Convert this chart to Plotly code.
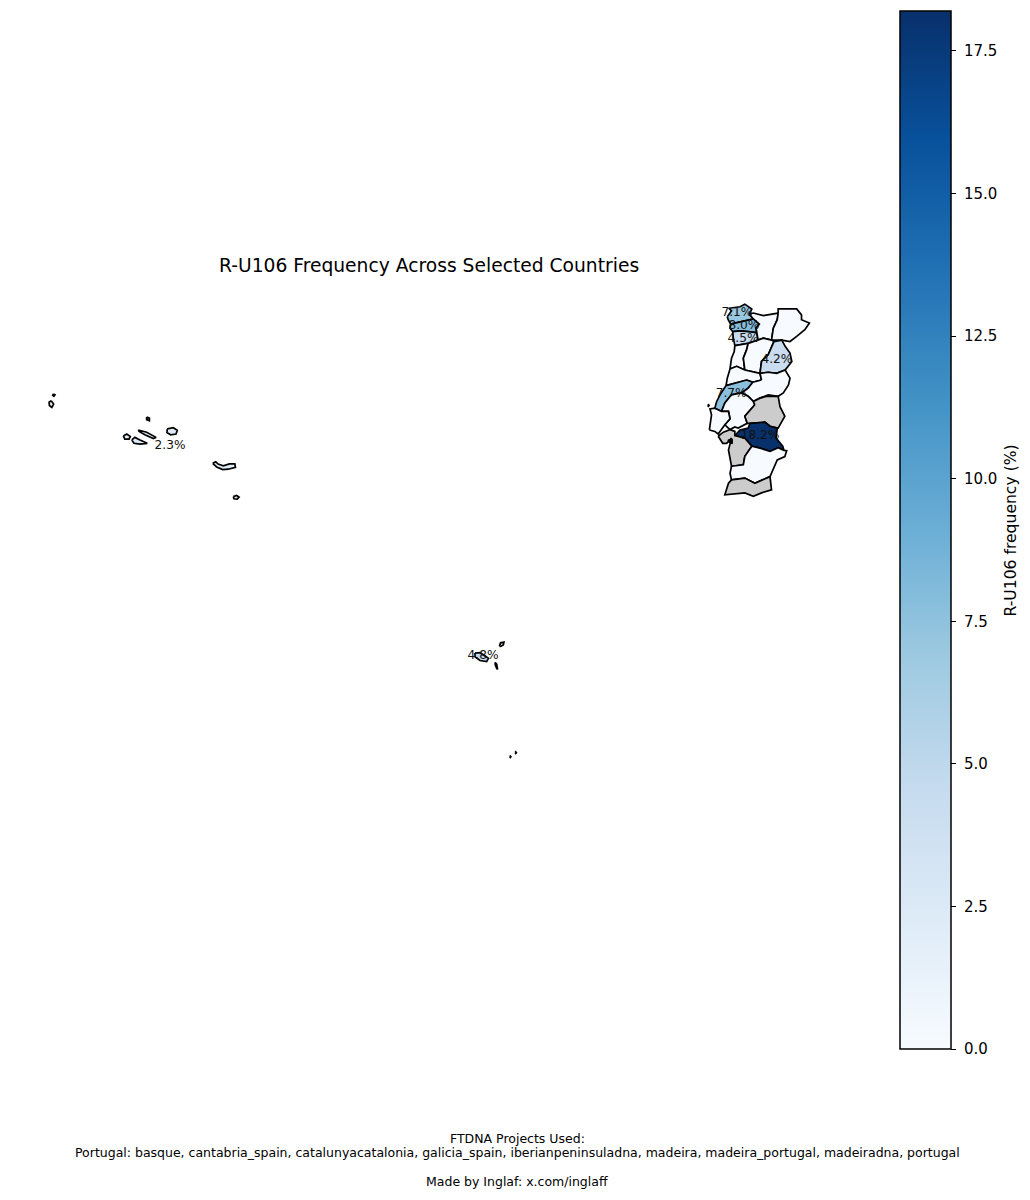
import plotly.graph_objects as go
from plotly.colors import sample_colorscale

FONT = "DejaVu Sans"
MAX_FREQ = 18.2

# district outlines as (lon, lat)
viana = [(-8.85, 41.83), (-8.71, 41.99), (-8.80, 42.06), (-8.43, 42.10), (-8.27, 42.17), (-8.04, 42.04), (-8.12, 41.90),
         (-7.99, 41.77), (-8.27, 41.72), (-8.54, 41.66), (-8.74, 41.63), (-8.82, 41.75)]
braga = [(-8.74, 41.63), (-8.54, 41.66), (-8.27, 41.72), (-7.99, 41.77), (-7.79, 41.63), (-7.90, 41.52),
         (-7.88, 41.40), (-8.16, 41.43), (-8.43, 41.45), (-8.67, 41.43), (-8.76, 41.52)]
porto = [(-8.67, 41.43), (-8.43, 41.45), (-8.16, 41.43), (-7.88, 41.40), (-7.83, 41.20), (-8.16, 41.11),
         (-8.43, 41.07), (-8.60, 41.05), (-8.65, 41.25)]
vila_real = [(-8.12, 41.90), (-7.99, 41.93), (-7.66, 41.86), (-7.17, 41.93), (-7.20, 41.75), (-7.33, 41.52),
             (-7.39, 41.20), (-7.66, 41.25), (-7.83, 41.20), (-7.88, 41.40), (-7.90, 41.52), (-7.79, 41.63),
             (-7.99, 41.77)]
braganca = [(-7.17, 41.93), (-7.17, 42.04), (-6.78, 42.04), (-6.56, 42.04), (-6.40, 41.88), (-6.40, 41.75),
            (-6.14, 41.66), (-6.29, 41.48), (-6.56, 41.30), (-6.78, 41.16), (-7.05, 41.20), (-7.39, 41.20),
            (-7.33, 41.52), (-7.20, 41.75)]
aveiro = [(-8.60, 41.05), (-8.43, 41.07), (-8.16, 41.11), (-8.21, 40.94), (-8.32, 40.71), (-8.27, 40.39),
          (-8.54, 40.49), (-8.76, 40.42), (-8.71, 40.71), (-8.62, 40.89)]
viseu = [(-8.16, 41.11), (-7.83, 41.20), (-7.66, 41.25), (-7.39, 41.20), (-7.31, 41.16), (-7.50, 40.80),
         (-7.72, 40.62), (-7.77, 40.30), (-8.27, 40.39), (-8.32, 40.71), (-8.21, 40.94)]
guarda = [(-7.31, 41.16), (-7.05, 41.20), (-6.94, 41.03), (-6.78, 40.85), (-6.72, 40.62), (-6.94, 40.39),
          (-7.22, 40.30), (-7.50, 40.33), (-7.77, 40.30), (-7.72, 40.62), (-7.50, 40.80)]
coimbra = [(-8.76, 40.42), (-8.54, 40.49), (-8.27, 40.39), (-7.77, 40.30), (-7.72, 40.12), (-8.01, 40.06),
           (-8.21, 40.12), (-8.89, 39.97), (-8.85, 40.17)]
leiria = [(-8.89, 39.97), (-8.21, 40.12), (-8.01, 40.06), (-8.16, 39.90), (-8.38, 39.77), (-8.71, 39.72),
          (-8.93, 39.50), (-9.04, 39.27), (-9.26, 39.36), (-9.20, 39.54), (-9.09, 39.72)]
castelo_branco = [(-7.72, 40.12), (-7.77, 40.30), (-7.50, 40.33), (-7.22, 40.30), (-6.94, 40.39), (-6.78, 40.17),
                  (-6.83, 39.99), (-7.00, 39.77), (-7.17, 39.68), (-7.50, 39.72), (-7.77, 39.63), (-7.99, 39.54),
                  (-8.16, 39.68), (-8.38, 39.77), (-8.16, 39.90), (-8.01, 40.06)]
santarem = [(-8.93, 39.50), (-8.71, 39.72), (-8.38, 39.77), (-8.16, 39.68), (-7.99, 39.54), (-7.94, 39.45),
            (-8.27, 39.14), (-8.19, 38.95), (-8.49, 38.82), (-8.60, 38.85), (-8.76, 38.78), (-8.93, 38.91),
            (-8.76, 39.07), (-8.81, 39.27), (-9.04, 39.27)]
portalegre = [(-7.94, 39.45), (-7.99, 39.54), (-7.77, 39.63), (-7.55, 39.68), (-7.17, 39.68), (-7.11, 39.40),
              (-6.95, 39.14), (-7.17, 38.82), (-7.44, 38.87), (-7.61, 38.98), (-8.10, 38.95), (-8.19, 38.95),
              (-8.27, 39.14)]
evora = [(-8.60, 38.62), (-8.43, 38.77), (-8.16, 38.82), (-8.10, 38.95), (-7.61, 38.98), (-7.44, 38.87),
         (-7.20, 38.82), (-7.24, 38.55), (-7.02, 38.33), (-6.98, 38.22), (-7.17, 38.29), (-7.44, 38.19),
         (-7.77, 38.28), (-8.04, 38.33), (-8.27, 38.55)]
setubal = [(-9.15, 38.60), (-8.98, 38.71), (-8.76, 38.78), (-8.60, 38.73), (-8.60, 38.62), (-8.27, 38.55),
           (-8.04, 38.33), (-8.27, 38.06), (-8.32, 37.83), (-8.71, 37.79), (-8.81, 38.23), (-8.71, 38.55),
           (-8.87, 38.41), (-9.00, 38.41)]
beja = [(-8.71, 37.79), (-8.32, 37.83), (-8.27, 38.06), (-8.04, 38.33), (-7.77, 38.28), (-7.44, 38.19),
        (-7.17, 38.29), (-6.98, 38.22), (-6.89, 38.21), (-6.95, 38.05), (-7.20, 37.96), (-7.33, 37.74),
        (-7.44, 37.51), (-7.94, 37.33), (-8.27, 37.47), (-8.71, 37.42), (-8.76, 37.60)]
faro = [(-8.71, 37.42), (-8.27, 37.47), (-7.94, 37.33), (-7.44, 37.51), (-7.39, 37.15), (-7.72, 37.07),
        (-7.99, 36.98), (-8.27, 37.07), (-8.93, 37.02), (-8.81, 37.33)]
lisboa = [(-9.44, 38.77), (-9.37, 39.18), (-9.42, 39.34), (-9.26, 39.36), (-9.04, 39.27), (-8.81, 39.27),
          (-8.76, 39.07), (-8.93, 38.91), (-9.15, 38.66), (-9.26, 38.73)]
berlengas = [(-9.50, 39.43), (-9.47, 39.45), (-9.45, 39.43), (-9.47, 39.41)]
estuary = [(-8.83, 38.50), (-8.68, 38.52), (-8.68, 38.40), (-8.78, 38.42)]

# islands
flores = [(-31.16, 39.56), (-31.08, 39.47), (-31.14, 39.38), (-31.22, 39.43), (-31.23, 39.52)]
corvo = [(-31.09, 39.745), (-31.035, 39.72), (-31.07, 39.68), (-31.11, 39.71)]
graciosa = [(-28.01, 39.12), (-27.92, 39.09), (-27.92, 39.02), (-28.01, 39.05)]
terceira = [(-27.33, 38.80), (-27.13, 38.83), (-27.0, 38.76), (-27.04, 38.66), (-27.22, 38.64), (-27.34, 38.70)]
sao_jorge = [(-28.29, 38.77), (-28.01, 38.71), (-27.70, 38.57), (-27.79, 38.54), (-28.07, 38.64), (-28.26, 38.73)]
faial = [(-28.78, 38.61), (-28.67, 38.66), (-28.55, 38.59), (-28.59, 38.52), (-28.73, 38.52)]
pico = [(-28.50, 38.50), (-28.40, 38.57), (-28.23, 38.50), (-27.99, 38.41), (-28.23, 38.39), (-28.43, 38.41)]
sao_miguel = [(-25.83, 37.87), (-25.73, 37.91), (-25.65, 37.85), (-25.48, 37.80), (-25.28, 37.855), (-25.10, 37.855),
              (-25.08, 37.76), (-25.32, 37.71), (-25.50, 37.70), (-25.70, 37.77)]
santa_maria = [(-25.15, 36.97), (-25.04, 37.0), (-24.96, 36.955), (-25.02, 36.90), (-25.13, 36.91)]
madeira = [(-17.175, 32.74), (-17.01, 32.75), (-16.73, 32.60), (-16.79, 32.51), (-17.01, 32.54), (-17.175, 32.64)]
porto_santo = [(-16.37, 32.93), (-16.33, 33.02), (-16.22, 33.04), (-16.24, 32.96), (-16.33, 32.92)]
desertas = [(-16.515, 32.49), (-16.46, 32.44), (-16.43, 32.30), (-16.46, 32.33), (-16.505, 32.42)]
selvagem_a = [(-16.03, 29.94), (-16.01, 29.96), (-15.99, 29.94), (-16.01, 29.92)]
selvagem_b = [(-15.85, 30.05), (-15.83, 30.07), (-15.81, 30.05), (-15.83, 30.03)]

# None = no data, drawn grey
regions = [
    ("Viana do Castelo", [viana], 7.1),
    ("Braga", [braga], 8.0),
    ("Porto", [porto], 4.5),
    ("Vila Real", [vila_real], 0),
    ("Braganca", [braganca], 0),
    ("Aveiro", [aveiro], 0),
    ("Viseu", [viseu], 0),
    ("Guarda", [guarda], 4.2),
    ("Coimbra", [coimbra], 0),
    ("Leiria", [leiria], 7.7),
    ("Castelo Branco", [castelo_branco], 0),
    ("Santarem", [santarem], 0),
    ("Portalegre", [portalegre], None),
    ("Evora", [evora], 18.2),
    ("Setubal", [setubal], None),
    ("Beja", [beja], 0),
    ("Faro", [faro], None),
    ("Lisboa", [lisboa, berlengas], 0),
    ("Azores", [flores, corvo, graciosa, terceira, sao_jorge, faial, pico, sao_miguel, santa_maria], 2.3),
    ("Madeira", [madeira, porto_santo, desertas, selvagem_a, selvagem_b], 4.8),
]

label_text = ["7.1%", "8.0%", "4.5%", "4.2%", "7.7%", "18.2%", "2.3%", "4.8%"]
label_lon = [-8.53, -8.30, -8.33, -7.21, -8.72, -7.77, -27.24, -16.91]
label_lat = [41.93, 41.58, 41.23, 40.66, 39.74, 38.61, 38.34, 32.67]

colorbar_ticks = [0, 2.5, 5, 7.5, 10, 12.5, 15, 17.5]

title = "R-U106 Frequency Across Selected Countries"
colorbar_title = "R-U106 frequency (%)"
footer_lines = [
    "FTDNA Projects Used:",
    "Portugal: basque, cantabria_spain, catalunyacatalonia, galicia_spain, iberianpeninsuladna, "
    "madeira, madeira_portugal, madeiradna, portugal",
    "Made by Inglaf: x.com/inglaff",
]


def region_color(value):
    if value is None:
        return "#cccccc"
    return sample_colorscale("Blues", value / MAX_FREQ)[0]


fig = go.Figure()

for name, rings, value in regions:
    xs, ys = [], []
    for ring in rings:
        xs += [p[0] for p in ring] + [ring[0][0], None]
        ys += [p[1] for p in ring] + [ring[0][1], None]
    fig.add_trace(go.Scatter(
        x=xs, y=ys, name=name, mode="lines", fill="toself",
        fillcolor=region_color(value),
        line=dict(color="black", width=1.7),
        hoverinfo="name", showlegend=False,
    ))

fig.add_trace(go.Scatter(
    x=[p[0] for p in estuary] + [estuary[0][0]],
    y=[p[1] for p in estuary] + [estuary[0][1]],
    mode="lines", fill="toself", fillcolor="black",
    line=dict(color="black", width=1), hoverinfo="skip", showlegend=False,
))

fig.add_trace(go.Scatter(
    x=label_lon, y=label_lat, mode="text", text=label_text,
    textposition="middle center",
    textfont=dict(family=FONT, size=12.2, color="#111111"),
    hoverinfo="skip", showlegend=False,
))

# invisible markers, only here to carry the colorbar
fig.add_trace(go.Scatter(
    x=label_lon, y=label_lat, mode="markers", hoverinfo="skip", showlegend=False,
    marker=dict(
        size=1, opacity=0, color=[0, MAX_FREQ] + [0] * 6, cmin=0, cmax=MAX_FREQ,
        colorscale="Blues", showscale=True,
        colorbar=dict(
            thickness=51, thicknessmode="pixels", len=1038, lenmode="pixels",
            x=900 / 1030, xanchor="left", xpad=0,
            y=151 / 1200, yanchor="bottom", ypad=0,
            outlinecolor="black", outlinewidth=1.5,
            tickmode="array", tickvals=colorbar_ticks,
            ticktext=["\u00a0%.1f" % t for t in colorbar_ticks],
            ticks="outside", ticklen=5, tickwidth=1.2, tickcolor="black",
            tickfont=dict(family=FONT, size=15, color="black"),
        ),
    ),
))

fig.add_annotation(
    text=title, xref="paper", yref="paper", x=429 / 1030, y=1 - 265 / 1200, yanchor="middle",
    showarrow=False, font=dict(family=FONT, size=18.7, color="black"),
)
fig.add_annotation(
    text=colorbar_title, xref="paper", yref="paper", x=1010.5 / 1030, y=1 - 531 / 1200,
    xanchor="center", yanchor="middle",
    textangle=-90, showarrow=False, font=dict(family=FONT, size=15.6, color="black"),
)
for line, py in zip(footer_lines, [1138, 1152, 1181]):
    fig.add_annotation(
        text=line, xref="paper", yref="paper", x=517 / 1030, y=1 - py / 1200, yanchor="middle",
        showarrow=False, font=dict(family=FONT, size=12.5, color="black"),
    )

fig.update_layout(
    width=1030, height=1200,
    margin=dict(l=0, r=0, t=0, b=0),
    paper_bgcolor="white", plot_bgcolor="white",
    xaxis=dict(visible=False, range=[-32.85, 1.14]),
    yaxis=dict(visible=False, range=[17.96, 50.39]),
)

fig.write_html("out.html", config={"displayModeBar": False},
               post_script="document.body.style.margin = '0';")
